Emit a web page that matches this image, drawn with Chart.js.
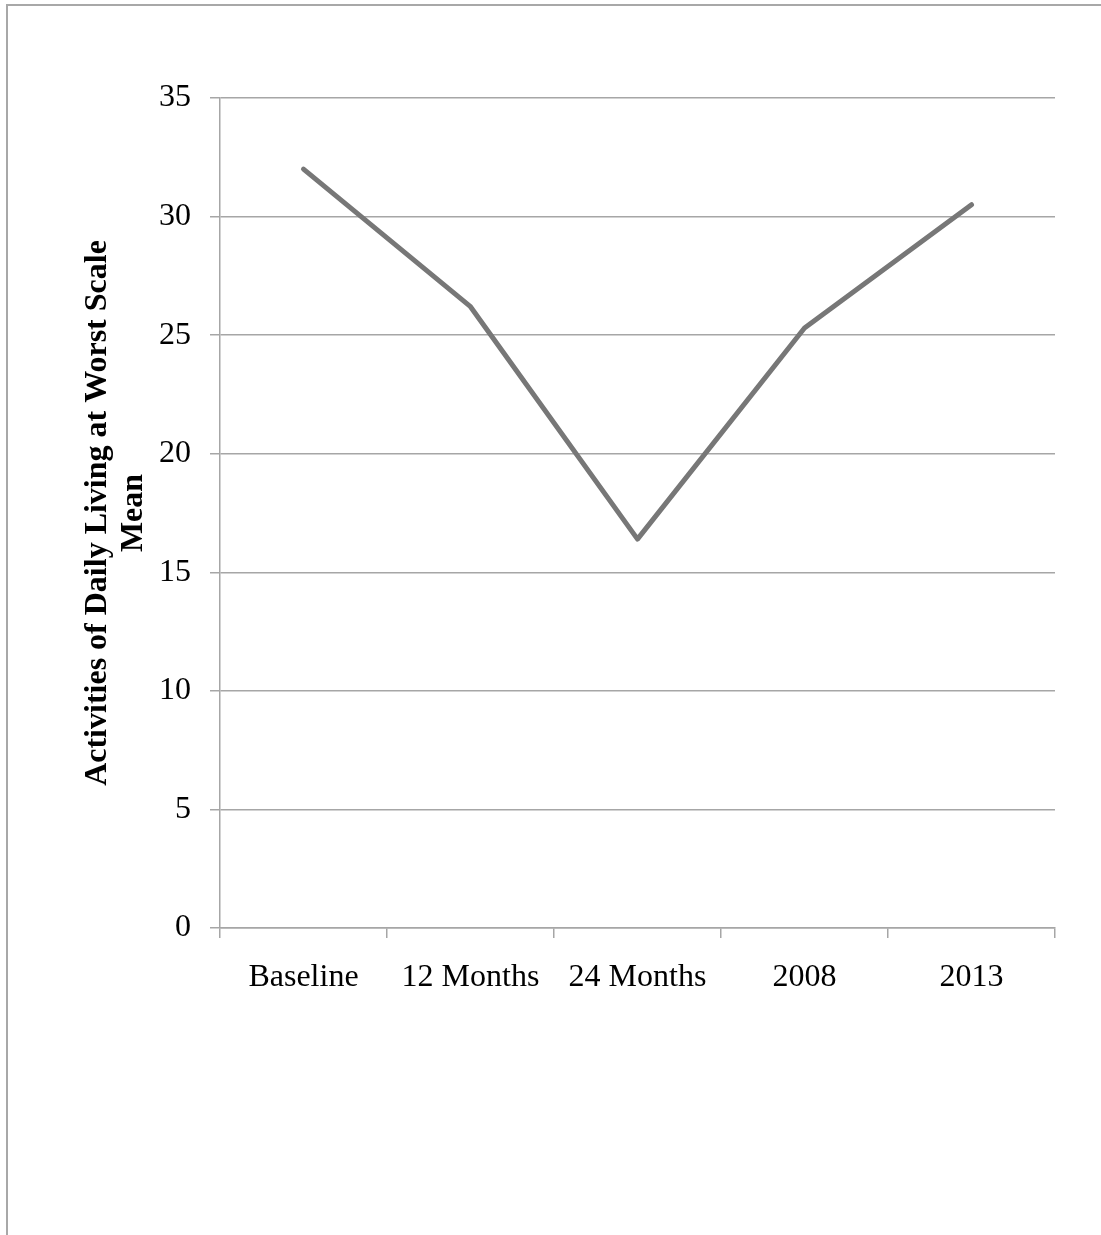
<!DOCTYPE html>
<html>
<head>
<meta charset="utf-8">
<script src="https://cdn.jsdelivr.net/npm/chart.js@4.4.1/dist/chart.umd.min.js"></script>
<style>
  html, body { margin: 0; padding: 0; background: #ffffff; }
  #wrap { position: relative; width: 1101px; height: 1235px; overflow: hidden; }
  #frame {
    position: absolute; left: 6px; top: 4px; width: 1120px; height: 1260px;
    border-top: 2px solid #a8a8a8; border-left: 2px solid #a8a8a8;
    box-sizing: border-box; pointer-events: none;
  }
  canvas { position: absolute; left: 0; top: 0; }
</style>
</head>
<body>
<div id="wrap">
  <div id="frame"></div>
  <canvas id="chart" width="1101" height="1235"></canvas>
</div>
<script>
// Time points on the horizontal axis
const categories = ['Baseline', '12 Months', '24 Months', '2008', '2013'];
// Mean ADL-at-worst scale score at each time point
const adlMean = [32.0, 26.2, 16.4, 25.3, 30.5];
// Vertical axis range and step
const yMin = 0;
const yMax = 35;
const yStep = 5;
const yTitle = ['Activities of Daily Living at Worst Scale', 'Mean'];

const gridGray = '#a6a6a6';
const serif = "'Liberation Serif', 'Times New Roman', serif";

new Chart(document.getElementById('chart'), {
  type: 'line',
  data: {
    labels: categories,
    datasets: [{
      data: adlMean,
      borderColor: '#777777',
      borderWidth: 5,
      borderCapStyle: 'round',
      borderJoinStyle: 'round',
      pointRadius: 0,
      pointHoverRadius: 0,
      tension: 0,
      fill: false
    }]
  },
  options: {
    responsive: false,
    devicePixelRatio: 1,
    animation: false,
    events: [],
    layout: { padding: { left: 0, top: 98, right: 46, bottom: 0 } },
    plugins: { legend: { display: false }, tooltip: { enabled: false } },
    scales: {
      x: {
        offset: true,
        grid: {
          offset: true,
          drawOnChartArea: false,
          drawTicks: true,
          tickLength: 10,
          color: gridGray,
          lineWidth: 1.5
        },
        border: { display: true, color: gridGray, width: 1.5 },
        ticks: {
          color: '#000000',
          padding: 20,
          maxRotation: 0,
          font: { family: serif, size: 32 }
        },
        afterFit: (scale) => { scale.height = 307; }
      },
      y: {
        min: yMin,
        max: yMax,
        grid: {
          drawTicks: true,
          tickLength: 10,
          color: gridGray,
          lineWidth: 1.5
        },
        border: { display: true, color: gridGray, width: 1.5 },
        ticks: {
          stepSize: yStep,
          color: '#000000',
          padding: 19,
          font: { family: serif, size: 32 }
        },
        title: {
          display: true,
          text: yTitle,
          color: '#000000',
          padding: { top: 79, bottom: 0 },
          font: { family: serif, size: 32, weight: 'bold', lineHeight: 1.15 }
        },
        afterFit: (scale) => { scale.width = 220; }
      }
    }
  }
});
</script>
</body>
</html>
